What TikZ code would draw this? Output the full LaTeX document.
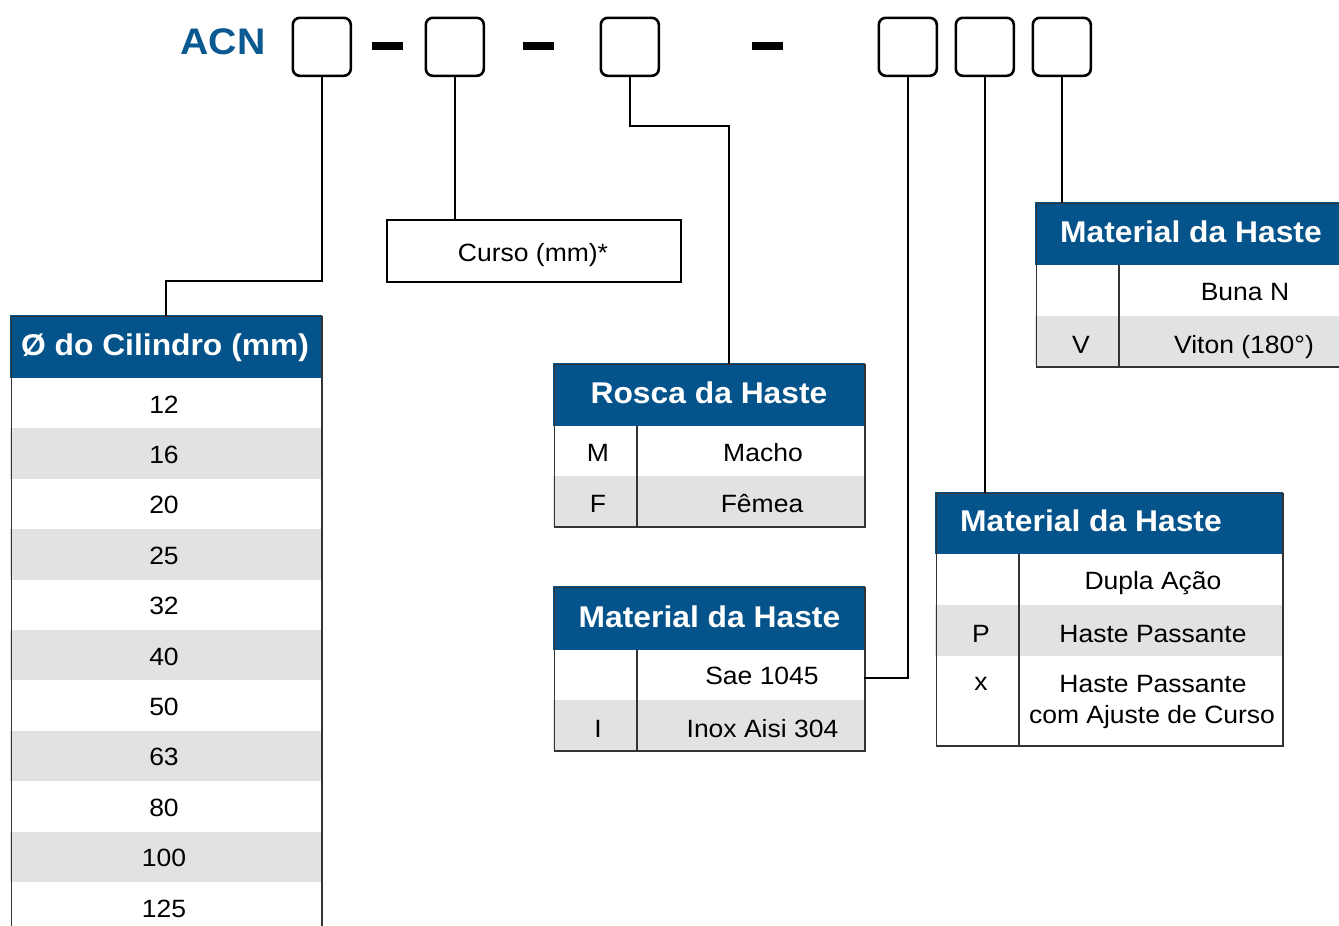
\documentclass[tikz,border=0pt]{standalone}
\usepackage{fontspec}
\setmainfont{Liberation Sans}[FakeStretch=1.06]
\definecolor{hblue}{HTML}{04538A}
\definecolor{acnblue}{HTML}{0A5A91}
\definecolor{rowgray}{HTML}{E1E2E4}
\definecolor{framecol}{HTML}{333333}
\tikzset{
  codebox/.style={draw=black, line width=2.6pt, rounded corners=7pt, minimum width=58pt, minimum height=58pt, inner sep=0pt, anchor=north west},
  dashbar/.style={fill=black, minimum width=31pt, minimum height=8pt, inner sep=0pt},
  conn/.style={draw=black, line width=2.2pt},
  frameb/.style={draw=framecol, line width=1.5pt, inner sep=0pt, anchor=north west},
  divl/.style={draw=framecol, line width=1.5pt},
  txt/.style={anchor=base, inner sep=0pt, font=\fontsize{25}{30}\selectfont},
  hdr/.style={anchor=base, inner sep=0pt, text=white, font=\fontsize{30}{36}\selectfont\bfseries},
}
\begin{document}
\begin{tikzpicture}[x=1pt,y=-1pt]
\useasboundingbox (0,0) rectangle (1339,926);
\clip (0,0) rectangle (1339,926);
\fill[white] (0,0) rectangle (1339,926);

% ---------- title and code boxes ----------
\node[anchor=base, inner sep=0pt, text=acnblue, font=\fontsize{37}{44}\selectfont\bfseries] (acn) at (223,54) {ACN};
\node[codebox] (b1) at (291.5,16.5) {};
\node[codebox] (b2) at (424.5,16.5) {};
\node[codebox] (b3) at (599.5,16.5) {};
\node[codebox] (b4) at (877.5,16.5) {};
\node[codebox] (b5) at (954.5,16.5) {};
\node[codebox] (b6) at (1031.5,16.5) {};
\node[dashbar] (d1) at (387.5,45.5) {};
\node[dashbar] (d2) at (538.5,45.5) {};
\node[dashbar] (d3) at (767,45.5) {};

% ---------- fills ----------
% left table
\fill[hblue] (10,315) rectangle (322,378);
\foreach \r in {1,3,5,7,9}{
  \fill[rowgray] (10,{378+\r*50.4}) rectangle (322,{378+(\r+1)*50.4});
}
% rosca
\fill[hblue] (553,363) rectangle (865,426);
\fill[rowgray] (553,476) rectangle (865,527);
% material mid
\fill[hblue] (553,586) rectangle (865,650);
\fill[rowgray] (553,700) rectangle (865,750);
% material right mid
\fill[hblue] (935,492) rectangle (1283,554);
\fill[rowgray] (935,605) rectangle (1283,656);
% material top right
\fill[hblue] (1035,202) rectangle (1345,265);
\fill[rowgray] (1035,316) rectangle (1345,366);

% ---------- frames ----------
\node[frameb, minimum width=310.5pt, minimum height=660pt] (t1) at (10.75,315.75) {};
\node[frameb, minimum width=310.5pt, minimum height=162.5pt] (t2) at (553.75,363.75) {};
\node[frameb, minimum width=310.5pt, minimum height=163.5pt] (t3) at (553.75,586.75) {};
\node[frameb, minimum width=346.5pt, minimum height=252.5pt] (t4) at (935.75,492.75) {};
\node[frameb, minimum width=330pt, minimum height=163.5pt] (t5) at (1035.75,202.75) {};
\node[draw=black, line width=2pt, minimum width=294pt, minimum height=62pt, inner sep=0pt, anchor=north west] (curso) at (386,219) {};

\draw[divl] (637,426) -- (637,527);
\draw[divl] (637,650) -- (637,750);
\draw[divl] (1019,554) -- (1019,745);
\draw[divl] (1119,265) -- (1119,366);

% ---------- connectors ----------
\coordinate (k1) at (166,281);
\coordinate (k3) at (729,126);
\coordinate (k4) at (864.25,678);
\draw[conn] (b1.south) |- (k1) -- (k1 |- t1.north);
\draw[conn] (b2.south) -- (b2.south |- curso.north);
\draw[conn] (b3.south) |- (k3) -- (k3 |- t2.north);
\draw[conn] (b4.south) |- (k4);
\draw[conn] (b5.south) -- (b5.south |- t4.north);
\draw[conn] (b6.south) -- (b6.south |- t5.north);

% ---------- texts ----------
\node[txt] (cursot) at (533,261) {Curso (mm)*};

\node[hdr] (h1) at (165,355) {Ø do Cilindro (mm)};
\foreach \v [count=\i from 0] in {12,16,20,25,32,40,50,63,80,100,125}{
  \node[txt] (r\i) at (164,{378+\i*50.4+35}) {\v};
}

\node[hdr] (h2) at (709,403) {Rosca da Haste};
\node[txt] (c21) at (598,461) {M};
\node[txt] (v21) at (763,461) {Macho};
\node[txt] (c22) at (598,512) {F};
\node[txt] (v22) at (762,512) {Fêmea};

\node[hdr] (h3) at (709.5,627) {Material da Haste};
\node[txt] (v31) at (762,684) {Sae 1045};
\node[txt] (c32) at (598,737) {I};
\node[txt] (v32) at (762.5,737) {Inox Aisi 304};

\node[hdr] (h4) at (1091,531) {Material da Haste};
\node[txt] (v41) at (1153,589) {Dupla Ação};
\node[txt] (c42) at (981,642) {P};
\node[txt] (v42) at (1153,642) {Haste Passante};
\node[txt] (c43) at (981,690) {x};
\node[txt] (v43) at (1153,692) {Haste Passante};
\node[txt] (v43b) at (1152,723) {com Ajuste de Curso};

\node[hdr] (h5) at (1191,242) {Material da Haste};
\node[txt] (v51) at (1245,300) {Buna N};
\node[txt] (c52) at (1081,353) {V};
\node[txt] (v52) at (1244,353) {Viton (180°)};
\end{tikzpicture}
\end{document}
